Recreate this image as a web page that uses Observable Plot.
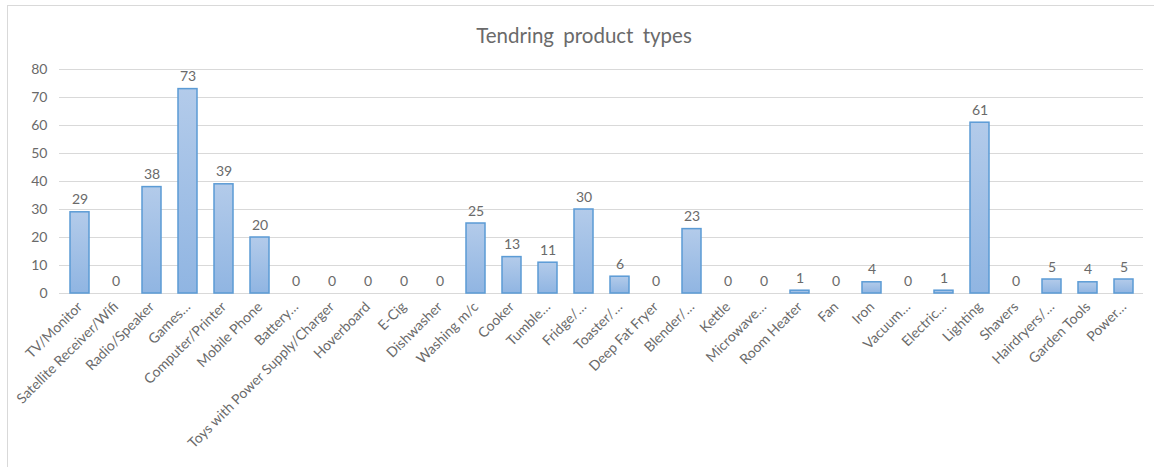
<!DOCTYPE html>
<html>
<head>
<meta charset="utf-8">
<script src="https://cdn.jsdelivr.net/npm/d3@7"></script>
<script src="https://cdn.jsdelivr.net/npm/@observablehq/plot@0.6"></script>
<style>
  html, body { margin: 0; padding: 0; background: #fff; }
  #wrap { position: relative; width: 1154px; height: 467px; overflow: hidden; font-family: Lato, "Open Sans", sans-serif; }
  #frame { position: absolute; left: 7px; top: 5px; width: 1300px; height: 600px; border-left: 1.5px solid #d9d9d9; border-top: 1.5px solid #d9d9d9; }
  #title { position: absolute; top: 22px; left: 584px; transform: translateX(-50%); font-size: 20.5px; color: #6a6a6a; white-space: nowrap; word-spacing: 4px; line-height: 26px; }
  #chart { position: absolute; left: 0; top: 50px; }
</style>
</head>
<body>
<div id="wrap">
  <div id="frame"></div>
  <div id="title">Tendring product types</div>
  <div id="chart"></div>
</div>
<script>
const categories = [
  "TV/Monitor", "Satellite Receiver/Wifi", "Radio/Speaker", "Games…", "Computer/Printer",
  "Mobile Phone", "Battery…", "Toys with Power Supply/Charger", "Hoverboard", "E-Cig",
  "Dishwasher", "Washing m/c", "Cooker", "Tumble…", "Fridge/…",
  "Toaster/…", "Deep Fat Fryer", "Blender/…", "Kettle", "Microwave…",
  "Room Heater", "Fan", "Iron", "Vacuum…", "Electric…",
  "Lighting", "Shavers", "Hairdryers/…", "Garden Tools", "Power…"
];
const counts = [
  29, 0, 38, 73, 39,
  20, 0, 0, 0, 0,
  0, 25, 13, 11, 30,
  6, 0, 23, 0, 0,
  1, 0, 4, 0, 1,
  61, 0, 5, 4, 5
];
const yTicks = [0, 10, 20, 30, 40, 50, 60, 70, 80];

const data = categories.map((c, i) => ({category: c, value: counts[i]}));
const gray = "#6a6a6a";

const chart = Plot.plot({
  width: 1154,
  height: 417,
  marginLeft: 59,
  marginRight: 11,
  marginTop: 19,
  marginBottom: 174,
  style: {fontFamily: "Lato, 'Open Sans', sans-serif", background: "transparent"},
  x: {domain: categories, paddingInner: 0.48, paddingOuter: 0.24, label: null},
  y: {domain: [0, 80], label: null},
  marks: [
    Plot.ruleY(yTicks, {stroke: "#d9d9d9", strokeWidth: 1, strokeOpacity: 1}),
    Plot.barY(data, {x: "category", y: "value", fill: "url(#barGrad)", stroke: "#5b9bd5", strokeWidth: 1.5}),
    Plot.text(data, {x: "category", y: "value", text: d => String(d.value), lineAnchor: "bottom", dy: -8, fill: gray, fontSize: 14}),
    Plot.axisY({ticks: yTicks, tickSize: 0, tickPadding: 12, fontSize: 14, fill: gray, label: null}),
    Plot.axisX({tickSize: 0, tickPadding: 11, tickRotate: -45, fontSize: 14, fill: gray, label: null})
  ]
});

const ns = "http://www.w3.org/2000/svg";
const defs = document.createElementNS(ns, "defs");
const grad = document.createElementNS(ns, "linearGradient");
grad.setAttribute("id", "barGrad");
grad.setAttribute("x1", "0"); grad.setAttribute("y1", "0");
grad.setAttribute("x2", "0"); grad.setAttribute("y2", "1");
[["0%", "#b3cbea"], ["100%", "#90b5e2"]].forEach(([o, c]) => {
  const s = document.createElementNS(ns, "stop");
  s.setAttribute("offset", o);
  s.setAttribute("stop-color", c);
  grad.appendChild(s);
});
defs.appendChild(grad);
chart.insertBefore(defs, chart.firstChild);

document.getElementById("chart").appendChild(chart);
</script>
</body>
</html>
